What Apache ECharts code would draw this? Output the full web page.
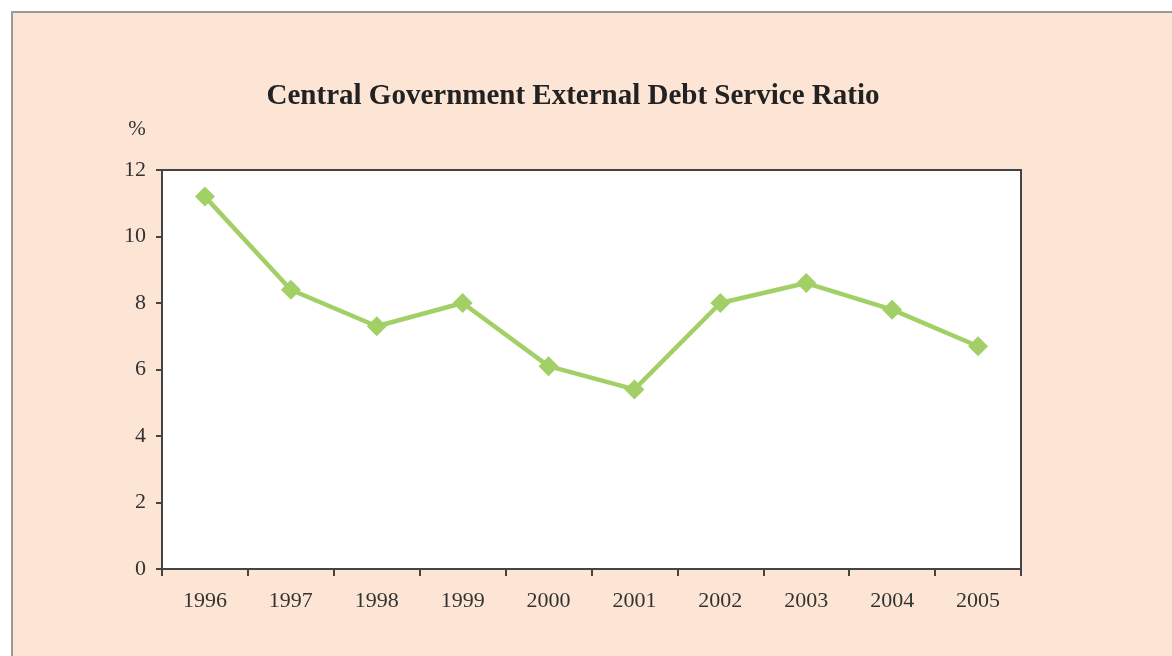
<!DOCTYPE html>
<html>
<head>
<meta charset="utf-8">
<script src="https://cdn.jsdelivr.net/npm/echarts@6/dist/echarts.min.js"></script>
<style>
html,body{margin:0;padding:0;background:#ffffff;}
#c{width:1172px;height:656px;}
</style>
</head>
<body>
<div id="c"></div>
<script>
const title = 'Central Government External Debt Service Ratio';
const unitLabel = '%';
const years = ['1996','1997','1998','1999','2000','2001','2002','2003','2004','2005'];
const ratio = [11.2, 8.4, 7.3, 8.0, 6.1, 5.4, 8.0, 8.6, 7.8, 6.7];

const chart = echarts.init(document.getElementById('c'), null, {renderer:'canvas'});
const serif = '"Liberation Serif","DejaVu Serif",serif';
chart.setOption({
  backgroundColor: '#ffffff',
  animation: false,
  graphic: [
    {type:'rect', left: 11, top: 11, shape:{x:0,y:0,width:1200,height:700},
     style:{fill:'#fde5d5', stroke:'#9a9a9a', lineWidth:2}, z:-10},
    {type:'text', x: 137, y: 129, style:{text: unitLabel, font: '21px ' + serif, fill:'#333', align:'center', verticalAlign:'middle'}}
  ],
  title: {
    text: title,
    left: 568, top: 92, textAlign: 'center', textVerticalAlign: 'middle',
    textStyle: {fontFamily: serif, fontWeight: 'bold', fontSize: 29, color: '#222'}
  },
  grid: {
    left: 162, top: 170, width: 859, height: 399,
    show: true, backgroundColor: '#ffffff', borderColor: '#444', borderWidth: 2
  },
  xAxis: {
    type: 'category', data: years, boundaryGap: true,
    axisLine: {lineStyle: {color: '#444', width: 2}},
    axisTick: {show: true, inside: false, length: 7, lineStyle: {color:'#444', width: 2}},
    axisLabel: {fontFamily: serif, fontSize: 22, color: '#333', margin: 21}
  },
  yAxis: {
    type: 'value', min: 0, max: 12, interval: 2,
    axisLine: {show: true, lineStyle: {color: '#444', width: 2}},
    axisTick: {show: true, inside: false, length: 6, lineStyle: {color:'#444', width: 2}},
    axisLabel: {fontFamily: serif, fontSize: 22, color: '#333', margin: 16},
    splitLine: {show: false}
  },
  series: [{
    type: 'line', data: ratio,
    symbol: 'diamond', symbolSize: 20,
    lineStyle: {color: '#a2d066', width: 4.5},
    itemStyle: {color: '#a2d066'}
  }]
});
</script>
</body>
</html>
